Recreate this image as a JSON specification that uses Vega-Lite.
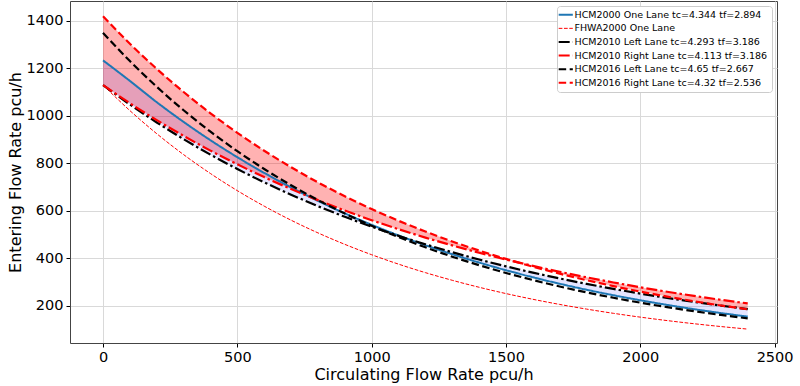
{
  "$schema": "https://vega.github.io/schema/vega-lite/v6.json",
  "autosize": {"type": "none"},
  "width": 707,
  "height": 342,
  "padding": {"left": 70, "top": 1, "right": 23, "bottom": 43},
  "datasets": {
    "models": [
      {"k": "H", "name": "HCM2000 One Lane tc=4.344 tf=2.894"},
      {"k": "F", "name": "FHWA2000 One Lane"},
      {"k": "L10", "name": "HCM2010 Left Lane tc=4.293 tf=3.186"},
      {"k": "R10", "name": "HCM2010 Right Lane tc=4.113 tf=3.186"},
      {"k": "L16", "name": "HCM2016 Left Lane tc=4.65 tf=2.667"},
      {"k": "R16", "name": "HCM2016 Right Lane tc=4.32 tf=2.536"}
    ],
    "curves": [
      {"k": "H", "x": 0, "y": 1234}, {"k": "H", "x": 100, "y": 1147.5}, {"k": "H", "x": 200, "y": 1057.9}, {"k": "H", "x": 300, "y": 974.8}, {"k": "H", "x": 400, "y": 897.7}, {"k": "H", "x": 500, "y": 826.3}, {"k": "H", "x": 600, "y": 760.2}, {"k": "H", "x": 700, "y": 699.0}, {"k": "H", "x": 800, "y": 642.3}, {"k": "H", "x": 900, "y": 590.0}, {"k": "H", "x": 1000, "y": 541.6}, {"k": "H", "x": 1100, "y": 496.9}, {"k": "H", "x": 1200, "y": 455.7}, {"k": "H", "x": 1300, "y": 417.7}, {"k": "H", "x": 1400, "y": 382.7}, {"k": "H", "x": 1500, "y": 350.4}, {"k": "H", "x": 1600, "y": 320.7}, {"k": "H", "x": 1700, "y": 293.4}, {"k": "H", "x": 1800, "y": 268.2}, {"k": "H", "x": 1900, "y": 245.1}, {"k": "H", "x": 2000, "y": 223.9}, {"k": "H", "x": 2100, "y": 204.4}, {"k": "H", "x": 2200, "y": 186.5}, {"k": "H", "x": 2300, "y": 170.1}, {"k": "H", "x": 2400, "y": 155.1},
      {"k": "F", "x": 0, "y": 1130}, {"k": "F", "x": 100, "y": 1022.5}, {"k": "F", "x": 200, "y": 925.2}, {"k": "F", "x": 300, "y": 837.1}, {"k": "F", "x": 400, "y": 757.5}, {"k": "F", "x": 500, "y": 685.4}, {"k": "F", "x": 600, "y": 620.2}, {"k": "F", "x": 700, "y": 561.1}, {"k": "F", "x": 800, "y": 507.7}, {"k": "F", "x": 900, "y": 459.4}, {"k": "F", "x": 1000, "y": 415.7}, {"k": "F", "x": 1100, "y": 376.1}, {"k": "F", "x": 1200, "y": 340.3}, {"k": "F", "x": 1300, "y": 308.0}, {"k": "F", "x": 1400, "y": 278.7}, {"k": "F", "x": 1500, "y": 252.1}, {"k": "F", "x": 1600, "y": 228.1}, {"k": "F", "x": 1700, "y": 206.4}, {"k": "F", "x": 1800, "y": 186.8}, {"k": "F", "x": 1900, "y": 169.0}, {"k": "F", "x": 2000, "y": 152.9}, {"k": "F", "x": 2100, "y": 138.4}, {"k": "F", "x": 2200, "y": 125.2}, {"k": "F", "x": 2300, "y": 113.3}, {"k": "F", "x": 2400, "y": 102.5},
      {"k": "L10", "x": 0, "y": 1130}, {"k": "L10", "x": 100, "y": 1048.3}, {"k": "L10", "x": 200, "y": 972.6}, {"k": "L10", "x": 300, "y": 902.3}, {"k": "L10", "x": 400, "y": 837.1}, {"k": "L10", "x": 500, "y": 776.6}, {"k": "L10", "x": 600, "y": 720.5}, {"k": "L10", "x": 700, "y": 668.5}, {"k": "L10", "x": 800, "y": 620.2}, {"k": "L10", "x": 900, "y": 575.3}, {"k": "L10", "x": 1000, "y": 533.8}, {"k": "L10", "x": 1100, "y": 495.2}, {"k": "L10", "x": 1200, "y": 459.4}, {"k": "L10", "x": 1300, "y": 426.2}, {"k": "L10", "x": 1400, "y": 395.4}, {"k": "L10", "x": 1500, "y": 366.9}, {"k": "L10", "x": 1600, "y": 340.3}, {"k": "L10", "x": 1700, "y": 315.8}, {"k": "L10", "x": 1800, "y": 292.9}, {"k": "L10", "x": 1900, "y": 271.8}, {"k": "L10", "x": 2000, "y": 252.1}, {"k": "L10", "x": 2100, "y": 233.9}, {"k": "L10", "x": 2200, "y": 217.0}, {"k": "L10", "x": 2300, "y": 201.3}, {"k": "L10", "x": 2400, "y": 186.8},
      {"k": "R10", "x": 0, "y": 1130}, {"k": "R10", "x": 100, "y": 1053.6}, {"k": "R10", "x": 200, "y": 982.4}, {"k": "R10", "x": 300, "y": 916.0}, {"k": "R10", "x": 400, "y": 854.0}, {"k": "R10", "x": 500, "y": 796.3}, {"k": "R10", "x": 600, "y": 742.5}, {"k": "R10", "x": 700, "y": 692.3}, {"k": "R10", "x": 800, "y": 645.5}, {"k": "R10", "x": 900, "y": 601.8}, {"k": "R10", "x": 1000, "y": 561.1}, {"k": "R10", "x": 1100, "y": 523.2}, {"k": "R10", "x": 1200, "y": 487.8}, {"k": "R10", "x": 1300, "y": 454.9}, {"k": "R10", "x": 1400, "y": 424.1}, {"k": "R10", "x": 1500, "y": 395.4}, {"k": "R10", "x": 1600, "y": 368.7}, {"k": "R10", "x": 1700, "y": 343.8}, {"k": "R10", "x": 1800, "y": 320.5}, {"k": "R10", "x": 1900, "y": 298.9}, {"k": "R10", "x": 2000, "y": 278.7}, {"k": "R10", "x": 2100, "y": 259.8}, {"k": "R10", "x": 2200, "y": 242.3}, {"k": "R10", "x": 2300, "y": 225.9}, {"k": "R10", "x": 2400, "y": 210.6},
      {"k": "L16", "x": 0, "y": 1349.8}, {"k": "L16", "x": 100, "y": 1231.0}, {"k": "L16", "x": 200, "y": 1122.7}, {"k": "L16", "x": 300, "y": 1023.9}, {"k": "L16", "x": 400, "y": 933.8}, {"k": "L16", "x": 500, "y": 851.6}, {"k": "L16", "x": 600, "y": 776.6}, {"k": "L16", "x": 700, "y": 708.3}, {"k": "L16", "x": 800, "y": 646.0}, {"k": "L16", "x": 900, "y": 589.1}, {"k": "L16", "x": 1000, "y": 537.3}, {"k": "L16", "x": 1100, "y": 490.0}, {"k": "L16", "x": 1200, "y": 446.9}, {"k": "L16", "x": 1300, "y": 407.5}, {"k": "L16", "x": 1400, "y": 371.7}, {"k": "L16", "x": 1500, "y": 339.0}, {"k": "L16", "x": 1600, "y": 309.1}, {"k": "L16", "x": 1700, "y": 281.9}, {"k": "L16", "x": 1800, "y": 257.1}, {"k": "L16", "x": 1900, "y": 234.5}, {"k": "L16", "x": 2000, "y": 213.8}, {"k": "L16", "x": 2100, "y": 195.0}, {"k": "L16", "x": 2200, "y": 177.9}, {"k": "L16", "x": 2300, "y": 162.2}, {"k": "L16", "x": 2400, "y": 147.9},
      {"k": "R16", "x": 0, "y": 1419.6}, {"k": "R16", "x": 100, "y": 1304.2}, {"k": "R16", "x": 200, "y": 1198.2}, {"k": "R16", "x": 300, "y": 1100.8}, {"k": "R16", "x": 400, "y": 1011.3}, {"k": "R16", "x": 500, "y": 929.1}, {"k": "R16", "x": 600, "y": 853.6}, {"k": "R16", "x": 700, "y": 784.2}, {"k": "R16", "x": 800, "y": 720.5}, {"k": "R16", "x": 900, "y": 661.9}, {"k": "R16", "x": 1000, "y": 608.1}, {"k": "R16", "x": 1100, "y": 558.7}, {"k": "R16", "x": 1200, "y": 513.3}, {"k": "R16", "x": 1300, "y": 471.5}, {"k": "R16", "x": 1400, "y": 433.2}, {"k": "R16", "x": 1500, "y": 398.0}, {"k": "R16", "x": 1600, "y": 365.6}, {"k": "R16", "x": 1700, "y": 335.9}, {"k": "R16", "x": 1800, "y": 308.6}, {"k": "R16", "x": 1900, "y": 283.5}, {"k": "R16", "x": 2000, "y": 260.5}, {"k": "R16", "x": 2100, "y": 239.3}, {"k": "R16", "x": 2200, "y": 219.9}, {"k": "R16", "x": 2300, "y": 202.0}, {"k": "R16", "x": 2400, "y": 185.6}
    ]
  },
  "data": {"name": "curves"},
  "encoding": {
    "x": {
      "field": "x",
      "type": "quantitative",
      "scale": {"domain": [-123, 2509], "nice": false, "zero": false},
      "axis": {"values": [0, 500, 1000, 1500, 2000, 2500], "format": "d", "title": "Circulating Flow Rate pcu/h", "labelFlush": false, "titlePadding": 3}
    }
  },
  "layer": [
    {
      "transform": [{"pivot": "k", "value": "y", "groupby": ["x"]}],
      "mark": {"type": "area", "color": "red", "opacity": 0.3, "interpolate": "monotone"},
      "encoding": {
        "y": {"field": "R16", "type": "quantitative", "scale": {"domain": [44, 1484], "nice": false, "zero": false}, "title": "Entering Flow Rate pcu/h"},
        "y2": {"field": "R10"}
      }
    },
    {
      "transform": [{"pivot": "k", "value": "y", "groupby": ["x"]}],
      "mark": {"type": "area", "color": "blue", "opacity": 0.1, "interpolate": "monotone"},
      "encoding": {
        "y": {"field": "H", "type": "quantitative", "scale": {"domain": [44, 1484], "nice": false, "zero": false}, "title": "Entering Flow Rate pcu/h"},
        "y2": {"field": "L10"}
      }
    },
    {
      "transform": [{"lookup": "k", "from": {"data": {"name": "models"}, "key": "k", "fields": ["name"]}}],
      "mark": {"type": "line", "interpolate": "monotone"},
      "encoding": {
        "y": {"field": "y", "type": "quantitative", "scale": {"domain": [44, 1484], "nice": false, "zero": false}, "title": "Entering Flow Rate pcu/h", "axis": {"values": [200, 400, 600, 800, 1000, 1200, 1400], "format": "d", "titlePadding": 3}},
        "detail": {"field": "k"},
        "color": {
          "field": "name", "type": "nominal",
          "scale": {
            "domain": ["HCM2000 One Lane tc=4.344 tf=2.894", "FHWA2000 One Lane", "HCM2010 Left Lane tc=4.293 tf=3.186", "HCM2010 Right Lane tc=4.113 tf=3.186", "HCM2016 Left Lane tc=4.65 tf=2.667", "HCM2016 Right Lane tc=4.32 tf=2.536"],
            "range": ["#1f77b4", "red", "black", "red", "black", "red"]
          },
          "legend": {"title": null, "encode": {"symbols": {"update": {"strokeWidth": {"signal": "datum.value === 'FHWA2000 One Lane' ? 1 : 2"}}}}}
        },
        "strokeDash": {
          "field": "name", "type": "nominal",
          "scale": {
            "domain": ["HCM2000 One Lane tc=4.344 tf=2.894", "FHWA2000 One Lane", "HCM2010 Left Lane tc=4.293 tf=3.186", "HCM2010 Right Lane tc=4.113 tf=3.186", "HCM2016 Left Lane tc=4.65 tf=2.667", "HCM2016 Right Lane tc=4.32 tf=2.536"],
            "range": [[1, 0], [3.7, 1.6], [11, 3, 2.5, 3], [11, 3, 2.5, 3], [7.5, 3.5], [7.5, 3.5]]
          },
          "legend": {"title": null, "encode": {"symbols": {"update": {"strokeWidth": {"signal": "datum.value === 'FHWA2000 One Lane' ? 1 : 2"}}}}}
        },
        "strokeWidth": {
          "condition": [
            {"test": "datum.k === 'F'", "value": 1},
            {"test": "datum.k === 'H'", "value": 2}
          ],
          "value": 2.2
        }
      }
    }
  ],
  "config": {
    "font": "DejaVu Sans",
    "view": {"stroke": "#444", "strokeWidth": 1},
    "axis": {
      "grid": true, "gridColor": "#d9d9d9", "gridWidth": 1, "domain": false,
      "tickColor": "#000", "tickSize": 4, "labelColor": "#000", "titleColor": "#000",
      "labelFontSize": 14.5, "titleFontSize": 16, "titleFontWeight": "normal", "labelPadding": 3
    },
    "legend": {
      "orient": "top-right", "offset": 5, "fillColor": "white", "strokeColor": "#ccc",
      "cornerRadius": 3, "padding": 4, "labelFontSize": 9.5, "labelColor": "#000",
      "labelLimit": 300, "symbolType": "stroke", "symbolSize": 200, "rowPadding": 2.6,
      "labelOffset": 4
    }
  }
}
